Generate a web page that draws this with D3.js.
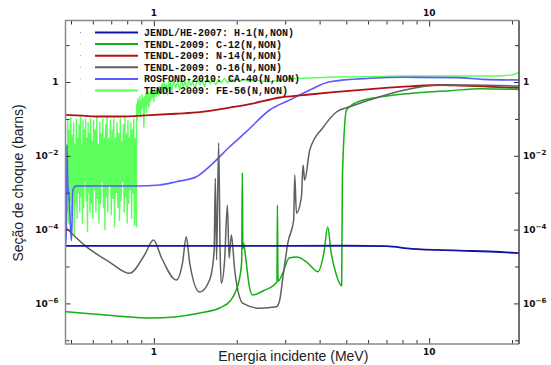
<!DOCTYPE html>
<html>
<head>
<meta charset="utf-8">
<script src="https://cdn.jsdelivr.net/npm/d3@7"></script>
<style>
	body { margin: 0; background: #fff; }
	svg { display: block; }
</style>
</head>
<body>
<svg id="chart" width="551" height="365"></svg>
<script>
// energies in MeV, cross sections in barns
const seriesNames = [
	"JENDL/HE-2007: H-1(N,NON)",
	"TENDL-2009: C-12(N,NON)",
	"TENDL-2009: N-14(N,NON)",
	"TENDL-2009: O-16(N,NON)",
	"ROSFOND-2010: CA-40(N,NON)",
	"TENDL-2009: FE-56(N,NON)"
];
const seriesColors = ["#1414a0", "#12b012", "#b01212", "#606060", "#5a5aff", "#5cff5c"];

const h1 = [[0.4775, 3.6e-5], [2, 3.6e-5], [5, 3.65e-5], [7, 3.55e-5], [8.65, 3.0e-5], [12.9, 2.7e-5], [18.1, 2.47e-5], [21.2, 2.3e-5]];

const c12 = [[0.4775, 6.0e-7], [0.6, 5.2e-7], [0.75, 4.5e-7], [0.965, 4.0e-7], [1.19, 4.3e-7], [1.47, 5.5e-7],
	[1.73, 7.5e-7], [1.9, 1.2e-6], [1.97, 1.9e-6], [2.05, 5e-6], [2.085, 1.4e-5], [2.095, 3.5e-3], [2.105, 3e-5],
	[2.12, 4.3e-5], [2.16, 1.5e-5], [2.22, 3e-6], [2.28, 1.7e-6], [2.5, 2.2e-6], [2.8, 3.8e-6], [2.81, 4.6e-4],
	[2.825, 4e-6], [2.94, 6.7e-6], [3.1, 1.7e-5], [3.3, 1.8e-5], [3.6, 1.3e-5], [3.94, 7.2e-6], [4.15, 2.5e-5],
	[4.28, 1.2e-4], [4.4, 2.5e-5], [4.6, 6e-6], [4.81, 3e-6], [4.84, 2.7e-3], [5.01, 0.174], [5.5, 0.29],
	[6.6, 0.39], [8.5, 0.49], [11.9, 0.58], [15.3, 0.66], [21.2, 0.63]];

const n14 = [[0.4775, 0.128], [0.55, 0.122], [0.635, 0.116], [0.75, 0.116], [0.965, 0.126], [1.2, 0.138],
	[1.47, 0.152], [1.8, 0.19], [2.23, 0.25], [2.87, 0.38], [3.48, 0.44], [4.5, 0.53], [6.6, 0.67],
	[8.5, 0.76], [11.2, 0.83], [13, 0.8], [17, 0.74], [21.2, 0.69]];

const o16 = [[0.48, 1.1e-4], [0.568, 3.44e-5], [0.69, 1.32e-5], [0.816, 6.54e-6], [0.925, 2.05e-5], [0.997, 5.2e-5],
	[1.067, 1.7e-5], [1.206, 4.3e-6], [1.272, 1.32e-5], [1.311, 6.4e-5], [1.348, 1.32e-5], [1.466, 2.04e-6],
	[1.594, 4.3e-6], [1.655, 2.5e-5], [1.672, 2.46e-3], [1.69, 1.5e-5], [1.719, 2.26e-2], [1.741, 2.2e-5],
	[1.758, 3.5e-6], [1.807, 1.5e-5], [1.849, 4.6e-4], [1.877, 1.7e-5], [1.912, 7.1e-5], [1.966, 8.0e-6],
	[2.107, 1.0e-6], [2.424, 7.4e-7], [2.787, 8.1e-7], [2.865, 1.24e-6], [2.945, 5.3e-6], [3.071, 4.6e-5],
	[3.22, 1.82e-4], [3.248, 3.0e-3], [3.295, 2.8e-4], [3.436, 7.8e-4], [3.482, 5.6e-3], [3.53, 2.2e-3],
	[3.684, 1.44e-2], [4.117, 5.85e-2], [4.606, 0.154], [5.147, 0.214], [6.62, 0.40], [8.746, 0.675],
	[10.64, 0.83], [14.06, 0.83], [21.2, 0.78]];

const ca40 = [[0.4775, 3.8e-5], [0.481, 1e-4], [0.4835, 1.96e-2], [0.487, 1.5e-3], [0.492, 8e-4], [0.497, 1.5e-4],
	[0.502, 5e-5], [0.508, 1.2e-3], [0.522, 1.52e-3], [0.863, 1.52e-3], [1.049, 1.62e-3], [1.206, 1.99e-3],
	[1.427, 2.71e-3], [1.639, 6.26e-3], [1.885, 1.76e-2], [2.168, 4.5e-2], [2.634, 0.174], [3.115, 0.325],
	[3.684, 0.607], [4.355, 1.02], [6.087, 1.26], [8.04, 1.34], [12.58, 1.31], [15.72, 1.18], [21.2, 1.13]];

const fe56 = [[0.4775, 2.0e-3], [0.479, 5e-5], [0.481, 0.02], [0.484, 3e-4], [0.487, 0.09], [0.490, 1.5e-4],
	[0.493, 0.05], [0.496, 6e-4], [0.499, 0.11], [0.502, 2.5e-4], [0.505, 0.035], [0.508, 1.2e-3], [0.511, 0.08],
	[0.514, 7e-5], [0.517, 0.02], [0.520, 5e-4], [0.523, 0.1], [0.526, 2e-4], [0.529, 0.03], [0.532, 1e-3],
	[0.535, 0.07], [0.538, 3e-4], [0.541, 0.12], [0.544, 8e-4], [0.547, 0.02], [0.550, 1.5e-4], [0.553, 0.09],
	[0.556, 4e-4], [0.559, 0.05], [0.562, 2e-3], [0.565, 0.1], [0.568, 6e-4], [0.571, 0.03], [0.574, 9e-5],
	[0.577, 0.08], [0.580, 1e-3], [0.583, 0.04], [0.586, 3e-4], [0.589, 0.1], [0.592, 5e-4], [0.596, 0.025],
	[0.600, 2e-4], [0.604, 0.09], [0.608, 1.2e-3], [0.612, 0.05], [0.616, 3e-4], [0.620, 0.11], [0.624, 7e-4],
	[0.628, 0.02], [0.632, 1.5e-4], [0.636, 0.08], [0.640, 5e-4], [0.644, 0.04], [0.648, 2e-3], [0.652, 0.1],
	[0.656, 4e-4], [0.660, 0.03], [0.664, 1e-4], [0.668, 0.07], [0.672, 8e-4], [0.676, 0.12], [0.680, 3e-4],
	[0.685, 0.03], [0.690, 1.5e-3], [0.695, 0.09], [0.700, 2.5e-4], [0.705, 0.05], [0.710, 7e-4], [0.715, 0.1],
	[0.720, 1.2e-4], [0.725, 0.03], [0.730, 1e-3], [0.735, 0.08], [0.740, 4e-4], [0.745, 0.04], [0.750, 1.8e-4],
	[0.755, 0.1], [0.760, 6e-4], [0.765, 0.025], [0.770, 2e-3], [0.775, 0.07], [0.780, 3e-4], [0.785, 0.11],
	[0.790, 8e-4], [0.795, 0.04], [0.800, 1.5e-4], [0.805, 0.09], [0.810, 5e-4], [0.815, 0.03], [0.820, 1.2e-3],
	[0.825, 0.08], [0.830, 2e-4], [0.835, 0.05], [0.840, 1e-3], [0.845, 0.1], [0.850, 1.3e-4], [0.855, 0.03],
	[0.860, 6e-4], [0.864, 1.2e-4],
	[0.866, 0.25], [0.870, 0.09], [0.874, 0.35], [0.878, 0.12], [0.882, 0.3], [0.886, 0.15], [0.890, 0.4],
	[0.894, 0.11], [0.898, 0.3], [0.902, 0.18], [0.906, 0.45], [0.910, 0.2], [0.915, 0.35], [0.920, 0.06],
	[0.925, 0.4], [0.93, 0.22], [0.935, 0.5], [0.94, 0.15], [0.945, 0.45], [0.95, 0.25], [0.955, 0.55],
	[0.96, 0.2], [0.965, 0.5], [0.97, 0.3], [0.975, 0.6], [0.98, 0.35], [0.99, 0.55], [1.0, 0.3], [1.01, 0.65],
	[1.02, 0.4], [1.03, 0.7], [1.04, 0.45], [1.05, 0.75],
	[1.06, 0.5], [1.07, 0.9], [1.08, 0.55], [1.09, 1.0], [1.10, 0.6], [1.11, 0.85], [1.12, 0.45], [1.13, 1.05],
	[1.14, 0.65], [1.15, 0.95], [1.16, 0.55], [1.18, 1.1], [1.2, 0.7], [1.22, 1.0], [1.24, 0.6], [1.26, 1.15],
	[1.28, 0.75], [1.3, 1.05], [1.32, 0.65], [1.34, 1.2], [1.36, 0.8], [1.38, 1.0], [1.41, 0.7], [1.44, 1.2],
	[1.47, 0.85], [1.5, 1.1], [1.53, 0.75], [1.56, 1.25], [1.6, 0.9], [1.64, 1.15], [1.68, 0.85], [1.72, 1.2],
	[1.76, 0.95], [1.8, 1.25], [1.85, 0.95], [1.9, 1.2], [1.95, 1.0], [2.0, 1.25], [2.06, 1.05], [2.12, 1.2],
	[2.2, 1.05], [2.3, 1.15],
	[2.5, 1.05], [2.65, 1.02], [3.0, 1.2], [3.5, 1.26], [4.5, 1.36], [6, 1.4], [8, 1.45], [10, 1.45],
	[15, 1.45], [18, 1.45], [20, 1.55], [20.7, 1.7], [21.2, 1.8]];

const xMajorTicks = [1, 10];
const xMinorTicks = [0.5, 0.6, 0.7, 0.8, 0.9, 2, 3, 4, 5, 6, 7, 8, 9, 20];
const yMajorTicks = [1, 1e-2, 1e-4, 1e-6];
const yMinorTicks = [10, 1e-1, 1e-3, 1e-5, 1e-7];

const svg = d3.select("#chart");
const plotLeft = 65.5, plotRight = 519, plotTop = 20.5, plotBottom = 344;

const x = d3.scaleLog().domain([0.4775, 21.2]).range([plotLeft, plotRight]);
const y = d3.scaleLog().domain([46.4, 7.94e-8]).range([plotTop, plotBottom]);

const tickFont = "DejaVu Sans, sans-serif";

function yLabel(sel, v) {
	const e = Math.round(Math.log10(v));
	if (e === 0) {
		sel.text("1");
	} else {
		sel.text("10");
		sel.append("tspan").attr("dy", -4).attr("font-size", 7).text("\u2212" + (-e));
	}
}

// clip
svg.append("clipPath").attr("id", "plot")
	.append("rect").attr("x", plotLeft).attr("y", plotTop)
	.attr("width", plotRight - plotLeft).attr("height", plotBottom - plotTop);

// curves
const lineSmooth = d3.line().x(d => x(d[0])).y(d => y(d[1])).curve(d3.curveMonotoneX);
const lineRaw = d3.line().x(d => x(d[0])).y(d => y(d[1]));

const curves = svg.append("g").attr("clip-path", "url(#plot)").attr("fill", "none")
	.attr("stroke-linejoin", "round");
const drawOrder = [
	{ data: fe56, i: 5, w: 1.4, line: lineRaw },
	{ data: ca40, i: 4, w: 1.6, line: lineSmooth },
	{ data: n14, i: 2, w: 1.8, line: lineSmooth },
	{ data: c12, i: 1, w: 1.5, line: lineSmooth },
	{ data: o16, i: 3, w: 1.5, line: lineSmooth },
	{ data: h1, i: 0, w: 1.8, line: lineSmooth }
];
drawOrder.forEach(s => {
	curves.append("path")
		.attr("d", s.line(s.data))
		.attr("stroke", seriesColors[s.i])
		.attr("stroke-width", s.w);
});

// axes ticks (inward)
function tickAxis(axisFn, scale, vals, size, translate) {
	return svg.append("g")
		.attr("transform", translate)
		.call(axisFn(scale).tickValues(vals).tickSize(-size).tickFormat(""))
		.call(g => g.select(".domain").remove())
		.call(g => g.selectAll("line").attr("stroke", "#333"));
}
tickAxis(d3.axisBottom, x, xMajorTicks, 6, `translate(0,${plotBottom})`);
tickAxis(d3.axisBottom, x, xMinorTicks, 4, `translate(0,${plotBottom})`);
tickAxis(d3.axisTop, x, xMajorTicks, 6, `translate(0,${plotTop})`);
tickAxis(d3.axisTop, x, xMinorTicks, 4, `translate(0,${plotTop})`);
tickAxis(d3.axisLeft, y, yMajorTicks, 5, `translate(${plotLeft},0)`);
tickAxis(d3.axisLeft, y, yMinorTicks, 4, `translate(${plotLeft},0)`);
tickAxis(d3.axisRight, y, yMajorTicks, 5, `translate(${plotRight},0)`);
tickAxis(d3.axisRight, y, yMinorTicks, 4, `translate(${plotRight},0)`);

// tick labels
const labels = svg.append("g").attr("font-family", tickFont).attr("font-size", 9)
	.attr("font-weight", "bold").attr("fill", "#111");
labels.selectAll(".xb").data(xMajorTicks).join("text")
	.attr("x", d => x(d)).attr("y", plotBottom + 11).attr("text-anchor", "middle").text(d => d);
labels.selectAll(".xt").data(xMajorTicks).join("text")
	.attr("x", d => x(d)).attr("y", plotTop - 5).attr("text-anchor", "middle").text(d => d);
labels.selectAll(".yl").data(yMajorTicks).join("text")
	.attr("x", plotLeft - 7).attr("y", d => y(d) + 3.5).attr("text-anchor", "end")
	.each(function(d) { yLabel(d3.select(this), d); });
labels.selectAll(".yr").data(yMajorTicks).join("text")
	.attr("x", plotRight + 4).attr("y", d => y(d) + 3.5).attr("text-anchor", "start")
	.each(function(d) { yLabel(d3.select(this), d); });

// frame
svg.append("path")
	.attr("d", `M${plotRight},${plotBottom}H${plotLeft}V${plotTop}H${plotRight}`)
	.attr("fill", "none").attr("stroke", "#8a8a8a").attr("stroke-width", 1.5);
svg.append("line")
	.attr("x1", plotRight).attr("x2", plotRight).attr("y1", plotTop).attr("y2", plotBottom)
	.attr("stroke", "#404040").attr("stroke-width", 1.5);

// legend
const legend = svg.append("g");
seriesNames.forEach((name, i) => {
	const ly = 32.5 + i * 11.6;
	legend.append("rect").attr("x", 80).attr("y", ly - 0.5).attr("width", 1).attr("height", 1)
		.attr("fill", seriesColors[i]).attr("opacity", 0.5);
	legend.append("line").attr("x1", 95).attr("x2", 138).attr("y1", ly).attr("y2", ly)
		.attr("stroke", seriesColors[i]).attr("stroke-width", 2);
	legend.append("text").attr("x", 144).attr("y", ly + 3.5)
		.attr("font-family", "Liberation Mono, monospace").attr("font-size", 10)
		.attr("font-weight", "bold").attr("fill", "#111").text(name);
});

// axis titles
svg.append("text")
	.attr("x", (plotLeft + plotRight) / 2 + 1).attr("y", 361)
	.attr("text-anchor", "middle")
	.attr("font-family", "Liberation Sans, Arial, sans-serif").attr("font-size", 14)
	.attr("fill", "#222").text("Energia incidente (MeV)");
svg.append("text")
	.attr("transform", "translate(23,183) rotate(-90)")
	.attr("text-anchor", "middle")
	.attr("font-family", "Liberation Sans, Arial, sans-serif").attr("font-size", 14)
	.attr("fill", "#222").text("Seção de choque (barns)");
</script>
</body>
</html>
